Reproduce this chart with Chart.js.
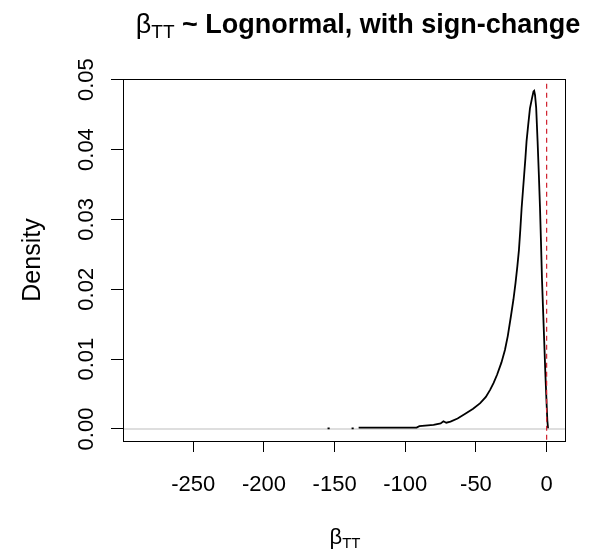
<!DOCTYPE html>
<html>
<head>
<meta charset="utf-8">
<script src="https://cdn.jsdelivr.net/npm/chart.js@4.4.1/dist/chart.umd.min.js"></script>
<style>
  html, body { margin: 0; padding: 0; background: #fff; }
  #wrap { width: 597px; height: 553px; }
</style>
</head>
<body>
<div id="wrap"><canvas id="densityChart"></canvas></div>
<script>
// density of beta_TT (null = gap in the curve)
const betaX = [-155, -153.5, -145, -138, -136.5, -135,
  -133, -120, -105, -92, -90, -80, -75, -73, -71, -68, -63, -57, -52, -47, -43, -40,
  -37.5, -35, -32, -29.5, -27.5, -25.3, -23.5, -22, -20.7, -19.6, -18.6, -17.7,
  -16.8, -15.9, -15, -14.2, -13, -11.8, -10.3, -9.3, -8.8, -8.2, -7.4, -6.4, -5.5,
  -4.7, -4.0, -3.3, -2.6, -1.7, -0.9, 0, 0.5, 1.0];
const density = [0.0001, 0.0001, null, 0.0001, 0.0001, null,
  0.0002, 0.0002, 0.0002, 0.0002, 0.0004, 0.0006, 0.0008, 0.0011, 0.0009, 0.00105, 0.0015, 0.00225, 0.0029, 0.0037, 0.0046, 0.0056,
  0.0066, 0.0078, 0.0095, 0.0113, 0.0133, 0.0161, 0.0185, 0.0209, 0.0233, 0.0256, 0.0286, 0.0316,
  0.034, 0.0364, 0.0388, 0.0412, 0.0436, 0.0459, 0.0474, 0.0483, 0.0484, 0.0478, 0.0460, 0.0412, 0.0364,
  0.0317, 0.0268, 0.0215, 0.0175, 0.0125, 0.0079, 0.0035, 0.0012, 0.0001];

const xTicks = [-250, -200, -150, -100, -50, 0];
const yTicks = [0, 0.01, 0.02, 0.03, 0.04, 0.05];
const xLimits = [-299.7, 13.7];
const yLimits = [-0.00172, 0.0501];
const signChangeAt = 0;

const curve = betaX.map((x, i) => ({ x: x, y: density[i] }));

const tickFont = '22px "Liberation Sans", Arial, sans-serif';

// draws a run of text pieces centred on cx
function drawPieces(ctx, pieces, cx, baseline) {
  let total = 0;
  pieces.forEach(p => { ctx.font = p.font; p.w = ctx.measureText(p.text).width; total += p.w; });
  let x = cx - total / 2;
  pieces.forEach(p => {
    ctx.font = p.font;
    ctx.fillText(p.text, x, baseline + (p.dy || 0));
    x += p.w;
  });
}

const rStyle = {
  id: 'rStyle',
  afterDraw(chart) {
    const ctx = chart.ctx;
    const area = chart.chartArea;
    ctx.save();
    // box round the plot
    ctx.strokeStyle = '#000';
    ctx.lineWidth = 1;
    ctx.strokeRect(Math.round(area.left) + 0.5, Math.round(area.top) + 0.5,
      Math.round(area.right - area.left) - 1, Math.round(area.bottom - area.top));

    ctx.fillStyle = '#000';
    ctx.textAlign = 'left';
    ctx.textBaseline = 'alphabetic';
    // main title
    drawPieces(ctx, [
      { text: 'β', font: '27px "Liberation Sans", Arial, sans-serif' },
      { text: 'TT', font: '19px "Liberation Sans", Arial, sans-serif', dy: 5 },
      { text: ' ~ Lognormal, with sign-change', font: 'bold 27px "Liberation Sans", Arial, sans-serif' }
    ], 358, 33);
    // x title
    drawPieces(ctx, [
      { text: 'β', font: '22px "Liberation Sans", Arial, sans-serif' },
      { text: 'TT', font: '15px "Liberation Sans", Arial, sans-serif', dy: 4 }
    ], 345, 544);

    // y tick labels, rotated like R's
    const ys = chart.scales.y;
    ctx.font = tickFont;
    ctx.textAlign = 'center';
    ctx.textBaseline = 'middle';
    yTicks.forEach(v => {
      ctx.save();
      ctx.translate(87, ys.getPixelForValue(v));
      ctx.rotate(-Math.PI / 2);
      ctx.fillText(v.toFixed(2), 0, 0);
      ctx.restore();
    });
    ctx.restore();
  }
};

new Chart(document.getElementById('densityChart'), {
  type: 'scatter',
  data: {
    datasets: [
      {
        data: [{ x: signChangeAt, y: -1 }, { x: signChangeAt, y: 1 }],
        showLine: true,
        borderColor: '#d0202e',
        borderWidth: 1.2,
        borderDash: [5, 4],
        pointRadius: 0
      },
      {
        data: curve,
        showLine: true,
        spanGaps: false,
        borderColor: '#000',
        borderWidth: 1.8,
        pointRadius: 0,
        tension: 0
      },
      {
        data: [{ x: -1000, y: 0 }, { x: 1000, y: 0 }],
        showLine: true,
        borderColor: '#bebebe',
        borderWidth: 1.2,
        pointRadius: 0
      }
    ]
  },
  options: {
    responsive: true,
    maintainAspectRatio: false,
    animation: false,
    devicePixelRatio: 1,
    layout: { padding: { left: 0, right: 31, top: 79, bottom: 0 } },
    plugins: {
      legend: { display: false },
      tooltip: { enabled: false },
      title: { display: false }
    },
    scales: {
      x: {
        type: 'linear',
        min: xLimits[0],
        max: xLimits[1],
        afterBuildTicks: s => { s.ticks = xTicks.map(v => ({ value: v })); },
        afterFit: s => { s.height = 112; },
        grid: { drawOnChartArea: false, drawTicks: true, tickLength: 11, color: '#000' },
        border: { display: false },
        ticks: {
          color: '#000',
          font: { family: '"Liberation Sans", Arial, sans-serif', size: 22 },
          padding: 20,
          maxRotation: 0,
          callback: v => String(v)
        }
      },
      y: {
        type: 'linear',
        min: yLimits[0],
        max: yLimits[1],
        afterBuildTicks: s => { s.ticks = yTicks.map(v => ({ value: v })); },
        afterFit: s => { s.width = 123; },
        grid: { drawOnChartArea: false, drawTicks: true, tickLength: 12, color: '#000' },
        border: { display: false },
        ticks: { display: false },
        title: {
          display: true,
          text: 'Density',
          color: '#000',
          font: { family: '"Liberation Sans", Arial, sans-serif', size: 25 },
          padding: { top: 18, bottom: 0 }
        }
      }
    }
  },
  plugins: [rStyle]
});
</script>
</body>
</html>
